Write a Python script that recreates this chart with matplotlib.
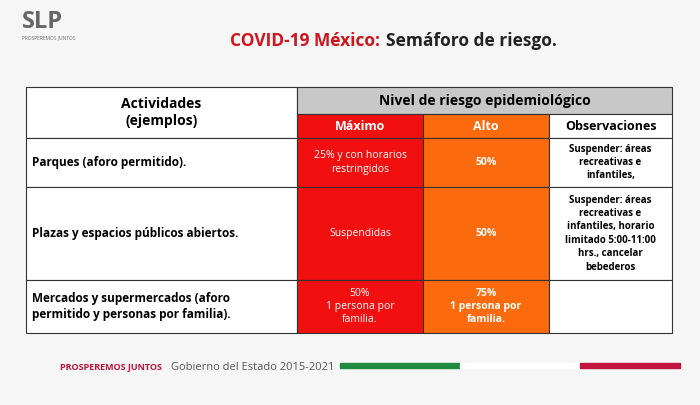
import matplotlib.pyplot as plt
from matplotlib.patches import Rectangle

plt.rcParams['font.family'] = ['Open Sans', 'DejaVu Sans']

actividades = ['Parques (aforo permitido).',
               'Plazas y espacios públicos abiertos.',
               'Mercados y supermercados (aforo\npermitido y personas por familia).']
maximo = ['25% y con horarios\nrestringidos', 'Suspendidas', '50%\n1 persona por\nfamilia.']
alto = ['50%', '50%', '75%\n1 persona por\nfamilia.']
observaciones = ['Suspender: áreas\nrecreativas e\ninfantiles,',
                 'Suspender: áreas\nrecreativas e\ninfantiles, horario\nlimitado 5:00-11:00\nhrs., cancelar\nbebederos',
                 '']
niveles = ['Máximo', 'Alto', 'Observaciones']

RED = '#f10f0f'
ORANGE = '#fb6a0c'

fig = plt.figure(figsize=(7, 4.05), dpi=100)
ax = fig.add_axes([0, 0, 1, 1])
ax.set_xlim(0, 700)
ax.set_ylim(405, 0)
ax.axis('off')
fig.patch.set_facecolor('#f6f6f6')

# logo / title
ax.text(22, 22, 'SLP', fontsize=17, fontweight='bold', color='#666666', va='center')
ax.text(22, 38, 'PROSPEREMOS JUNTOS', fontsize=3.5, color='#666666', va='center')
ax.text(230, 41, 'COVID-19 México:', fontsize=12.5, fontweight='bold', color='#d0141e', va='center')
ax.text(386, 41, 'Semáforo de riesgo.', fontsize=12.5, fontweight='bold', color='#222222', va='center')

xs = [26, 297, 423, 549, 672]
ys = [87, 114, 138, 187, 280, 333]

def cell(x0, x1, y0, y1, fc, text='', color='black', bold=True, size=8, ha='center'):
    ax.add_patch(Rectangle((x0, y0), x1 - x0, y1 - y0, facecolor=fc, edgecolor='#333333', lw=0.8))
    if text:
        tx = (x0 + x1) / 2 if ha == 'center' else x0 + 6
        ax.text(tx, (y0 + y1) / 2, text, ha=ha, va='center', color=color, fontsize=size,
                fontweight='bold' if bold else 'normal', multialignment=ha, linespacing=1.3)

cell(xs[0], xs[1], ys[0], ys[2], 'white', 'Actividades\n(ejemplos)', size=10)
cell(xs[1], xs[4], ys[0], ys[1], '#c8c8c8', 'Nivel de riesgo epidemiológico', size=10)
for i, n in enumerate(niveles):
    fc = [RED, ORANGE, 'white'][i]
    cell(xs[i + 1], xs[i + 2], ys[1], ys[2], fc, n, color='white' if i < 2 else 'black', size=9)

for r in range(3):
    y0, y1 = ys[r + 2], ys[r + 3]
    cell(xs[0], xs[1], y0, y1, 'white', actividades[r], size=8.5, ha='left')
    cell(xs[1], xs[2], y0, y1, RED, maximo[r], color='white', bold=False, size=7.5)
    cell(xs[2], xs[3], y0, y1, ORANGE, alto[r], color='white', size=7.5)
    cell(xs[3], xs[4], y0, y1, 'white', observaciones[r], size=7)

# footer
ax.text(60, 367, 'PROSPEREMOS JUNTOS', fontsize=6.5, fontweight='bold', color='#c0143c', va='center')
ax.text(171, 367, 'Gobierno del Estado 2015-2021', fontsize=8, color='#555555', va='center')
ax.add_patch(Rectangle((340, 363), 120, 5, color='#1f8a3c'))
ax.add_patch(Rectangle((460, 363), 120, 5, color='white'))
ax.add_patch(Rectangle((580, 363), 100, 5, color='#c0143c'))

fig.savefig('out.png', dpi=100, facecolor=fig.get_facecolor())
